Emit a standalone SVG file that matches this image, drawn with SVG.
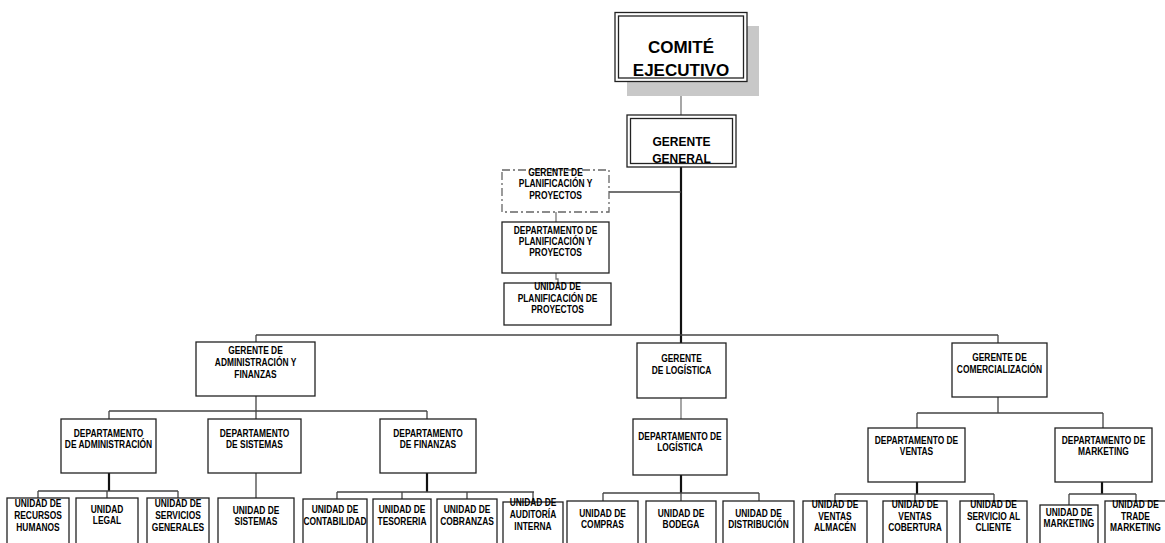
<svg xmlns="http://www.w3.org/2000/svg" width="1165" height="543" viewBox="0 0 1165 543">
<style>
.box{fill:#fff;stroke:#222;stroke-width:1.3}
.dbl{fill:none;stroke:#222;stroke-width:1.3}
.dash{fill:#fff;stroke:#666;stroke-width:1.3;stroke-dasharray:8 3 2 3}
.ln{fill:none;stroke:#444;stroke-width:1.3}
.lg{fill:none;stroke:#777;stroke-width:1.3}
.lt{fill:none;stroke:#111;stroke-width:2.2}
text{font-family:"Liberation Sans",Arial,sans-serif;font-weight:bold;fill:#000;text-anchor:middle}
.s{font-size:10.5px;transform-box:fill-box;transform-origin:center;transform:scaleX(0.8)}
.big{font-size:17px}
.mid{font-size:12px}
</style>
<rect width="1165" height="543" fill="#fff"/>
<g id="connectors">
<path class="lg" d="M681,82V115"/>
<path class="lt" d="M681,167V343"/>
<path class="ln" d="M609,192H681"/>
<path class="lg" d="M556,212V222"/>
<path class="lg" d="M556,273V279H558V283"/>
<path class="ln" d="M256,335H998"/>
<path class="ln" d="M256,335V342"/>
<path class="ln" d="M998,335V343"/>
<path class="ln" d="M256,396V419M109,411H427M109,411V419M427,411V419"/>
<path class="lt" d="M109,473V491"/>
<path class="ln" d="M38,491H178M38,491V498M107,491V498M178,491V498"/>
<path class="ln" d="M256,473V498"/>
<path class="lt" d="M427,473V492"/>
<path class="ln" d="M337,492H534M337,492V499M402,492V499M467,492V499M533,492V502"/>
<path class="lg" d="M681,398V419"/>
<path class="lt" d="M681,475V493"/>
<path class="ln" d="M603,493H759M603,493V501M681,493V501M759,493V501"/>
<path class="ln" d="M998,397V413M917,413H1103M917,413V428M1103,413V428"/>
<path class="lt" d="M917,482V494"/>
<path class="ln" d="M835,494H994M835,494V501M915,494V501M994,494V501"/>
<path class="lt" d="M1102,482V494"/>
<path class="ln" d="M1069,494H1136M1069,494V505M1136,494V501"/>
</g>
<g id="comite">
<rect x="627" y="26" width="132" height="70" fill="#c8c8c8"/>
<rect class="box" x="615" y="12.5" width="132" height="69"/>
<rect class="dbl" x="618.5" y="16" width="125" height="62"/>
<text class="big" x="681" y="53">COMITÉ</text>
<text class="big" x="681" y="76">EJECUTIVO</text>
</g>
<g id="gerente-general">
<rect class="box" x="627" y="115" width="109" height="52"/>
<rect class="dbl" x="630.5" y="118.5" width="102" height="45"/>
<text class="mid" x="681.5" y="146">GERENTE</text>
<text class="mid" x="681.5" y="163">GENERAL</text>
</g>
<g id="gerente-planificacion">
<rect class="dash" x="502" y="170" width="107" height="42"/>
<text class="s" x="555.5" y="176">GERENTE DE</text>
<text class="s" x="555.5" y="187.5">PLANIFICACIÓN Y</text>
<text class="s" x="555.5" y="199">PROYECTOS</text>
</g>
<g id="depto-planificacion">
<rect class="box" x="502" y="222" width="107" height="51"/>
<text class="s" x="555.5" y="234">DEPARTAMENTO DE</text>
<text class="s" x="555.5" y="245">PLANIFICACIÓN Y</text>
<text class="s" x="555.5" y="256">PROYECTOS</text>
</g>
<g id="unidad-planificacion">
<rect class="box" x="504" y="283" width="107" height="42"/>
<text class="s" x="557.5" y="290">UNIDAD DE</text>
<text class="s" x="557.5" y="302">PLANIFICACIÓN DE</text>
<text class="s" x="557.5" y="313">PROYECTOS</text>
</g>
<g id="gerente-admin">
<rect class="box" x="196" y="342" width="119" height="54"/>
<text class="s" x="255.5" y="354">GERENTE DE</text>
<text class="s" x="255.5" y="366">ADMINISTRACIÓN Y</text>
<text class="s" x="255.5" y="378">FINANZAS</text>
</g>
<g id="gerente-logistica">
<rect class="box" x="637" y="343" width="89" height="55"/>
<text class="s" x="681.5" y="362">GERENTE</text>
<text class="s" x="681.5" y="374">DE LOGÍSTICA</text>
</g>
<g id="gerente-comercializacion">
<rect class="box" x="952" y="343" width="95" height="54"/>
<text class="s" x="999.5" y="361">GERENTE DE</text>
<text class="s" x="999.5" y="373">COMERCIALIZACIÓN</text>
</g>
<g id="depto-admin">
<rect class="box" x="61" y="419" width="95" height="54"/>
<text class="s" x="108.5" y="437">DEPARTAMENTO</text>
<text class="s" x="108.5" y="448">DE ADMINISTRACIÓN</text>
</g>
<g id="depto-sistemas">
<rect class="box" x="208" y="419" width="93" height="54"/>
<text class="s" x="254.5" y="437">DEPARTAMENTO</text>
<text class="s" x="254.5" y="448">DE SISTEMAS</text>
</g>
<g id="depto-finanzas">
<rect class="box" x="380" y="419" width="96" height="54"/>
<text class="s" x="428" y="437">DEPARTAMENTO</text>
<text class="s" x="428" y="448">DE FINANZAS</text>
</g>
<g id="depto-logistica">
<rect class="box" x="633" y="419" width="94" height="56"/>
<text class="s" x="680" y="440">DEPARTAMENTO DE</text>
<text class="s" x="680" y="451">LOGÍSTICA</text>
</g>
<g id="depto-ventas">
<rect class="box" x="868" y="428" width="97" height="54"/>
<text class="s" x="916.5" y="444">DEPARTAMENTO DE</text>
<text class="s" x="916.5" y="455">VENTAS</text>
</g>
<g id="depto-marketing">
<rect class="box" x="1055" y="428" width="97" height="54"/>
<text class="s" x="1103.5" y="444">DEPARTAMENTO DE</text>
<text class="s" x="1103.5" y="455">MARKETING</text>
</g>
<g id="u-rrhh">
<rect class="box" x="7" y="498" width="62" height="60"/>
<text class="s" x="38" y="507">UNIDAD DE</text>
<text class="s" x="38" y="519">RECURSOS</text>
<text class="s" x="38" y="531">HUMANOS</text>
</g>
<g id="u-legal">
<rect class="box" x="76" y="498" width="62" height="60"/>
<text class="s" x="107" y="513">UNIDAD</text>
<text class="s" x="107" y="524">LEGAL</text>
</g>
<g id="u-servicios">
<rect class="box" x="147" y="498" width="62" height="60"/>
<text class="s" x="178" y="507">UNIDAD DE</text>
<text class="s" x="178" y="519">SERVICIOS</text>
<text class="s" x="178" y="531">GENERALES</text>
</g>
<g id="u-sistemas">
<rect class="box" x="218" y="498" width="76" height="60"/>
<text class="s" x="256" y="514">UNIDAD DE</text>
<text class="s" x="256" y="525">SISTEMAS</text>
</g>
<g id="u-contabilidad">
<rect class="box" x="303" y="499" width="64" height="60"/>
<text class="s" x="335" y="513">UNIDAD DE</text>
<text class="s" x="335" y="525">CONTABILIDAD</text>
</g>
<g id="u-tesoreria">
<rect class="box" x="373" y="499" width="58" height="60"/>
<text class="s" x="402" y="513">UNIDAD DE</text>
<text class="s" x="402" y="525">TESORERIA</text>
</g>
<g id="u-cobranzas">
<rect class="box" x="437" y="499" width="60" height="60"/>
<text class="s" x="467" y="513">UNIDAD DE</text>
<text class="s" x="467" y="525">COBRANZAS</text>
</g>
<g id="u-auditoria">
<rect class="box" x="503" y="502" width="60" height="60"/>
<text class="s" x="533" y="506">UNIDAD DE</text>
<text class="s" x="533" y="518">AUDITORÍA</text>
<text class="s" x="533" y="530">INTERNA</text>
</g>
<g id="u-compras">
<rect class="box" x="567" y="501" width="71" height="60"/>
<text class="s" x="602.5" y="517">UNIDAD DE</text>
<text class="s" x="602.5" y="528">COMPRAS</text>
</g>
<g id="u-bodega">
<rect class="box" x="646" y="501" width="70" height="60"/>
<text class="s" x="681" y="517">UNIDAD DE</text>
<text class="s" x="681" y="528">BODEGA</text>
</g>
<g id="u-distribucion">
<rect class="box" x="723" y="501" width="71" height="60"/>
<text class="s" x="758.5" y="517">UNIDAD DE</text>
<text class="s" x="758.5" y="528">DISTRIBUCIÓN</text>
</g>
<g id="u-ventas-almacen">
<rect class="box" x="803" y="501" width="64" height="60"/>
<text class="s" x="835" y="508">UNIDAD DE</text>
<text class="s" x="835" y="520">VENTAS</text>
<text class="s" x="835" y="531">ALMACÉN</text>
</g>
<g id="u-ventas-cobertura">
<rect class="box" x="883" y="501" width="64" height="60"/>
<text class="s" x="915" y="508">UNIDAD DE</text>
<text class="s" x="915" y="520">VENTAS</text>
<text class="s" x="915" y="531">COBERTURA</text>
</g>
<g id="u-servicio-cliente">
<rect class="box" x="960" y="501" width="67" height="60"/>
<text class="s" x="993.5" y="508">UNIDAD DE</text>
<text class="s" x="993.5" y="520">SERVICIO AL</text>
<text class="s" x="993.5" y="531">CLIENTE</text>
</g>
<g id="u-marketing">
<rect class="box" x="1040" y="505" width="58" height="60"/>
<text class="s" x="1069" y="516">UNIDAD DE</text>
<text class="s" x="1069" y="527">MARKETING</text>
</g>
<g id="u-trade-marketing">
<rect class="box" x="1105" y="501" width="61" height="60"/>
<text class="s" x="1135.5" y="508">UNIDAD DE</text>
<text class="s" x="1135.5" y="520">TRADE</text>
<text class="s" x="1135.5" y="531">MARKETING</text>
</g>
</svg>
